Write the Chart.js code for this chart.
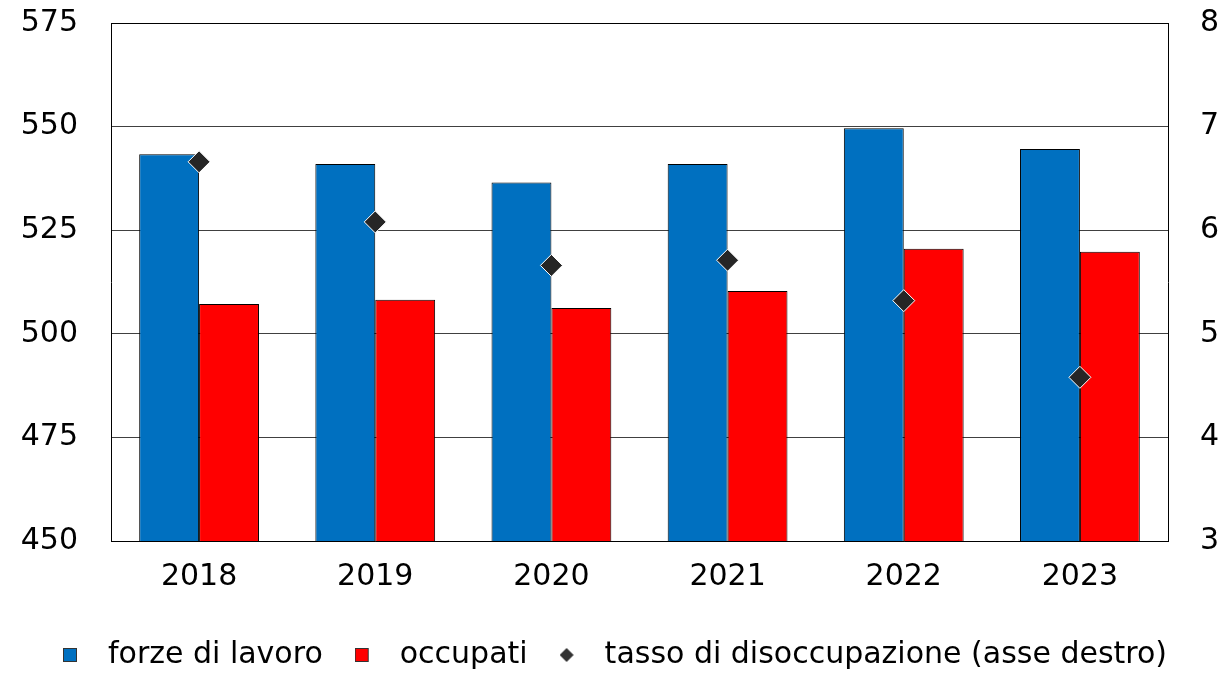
<!DOCTYPE html>
<html>
<head>
<meta charset="utf-8">
<title>Forze di lavoro e occupati</title>
<script src="https://cdn.jsdelivr.net/npm/chart.js@4.4.0/dist/chart.umd.min.js"></script>
<style>
    body { margin: 0; background: #fff; }
    #wrap { width: 1230px; height: 676px; }
</style>
</head>
<body>
<div id="wrap"><canvas id="myChart" width="1230" height="676"></canvas></div>
<script>
// data
const years = ['2018', '2019', '2020', '2021', '2022', '2023'];
const forzeLavoro = [543.3, 541.0, 536.5, 541.0, 549.6, 544.6];
const occupati = [507.2, 508.2, 506.2, 510.3, 520.5, 519.8];
const tassoDisoccupazione = [6.66, 6.08, 5.66, 5.71, 5.32, 4.58];
const leftTicks = [450, 475, 500, 525, 550, 575];
const rightTicks = [3, 4, 5, 6, 7, 8];

const FONT = { family: "'DejaVu Sans', 'Liberation Sans', Arial, sans-serif", size: 30 };

// little canvases used as legend markers, marker drawn at the left so the text sits further away
function legendIcon(kind, color) {
    const c = document.createElement('canvas');
    c.width = 30;
    c.height = 16;
    const g = c.getContext('2d');
    g.fillStyle = color;
    if (kind === 'square') {
        g.fillRect(0, 1, 14, 14);
        g.strokeStyle = '#333';
        g.lineWidth = 1;
        g.strokeRect(0.5, 1.5, 13, 13);
    } else {
        g.beginPath();
        g.moveTo(7, 1);
        g.lineTo(14, 8);
        g.lineTo(7, 15);
        g.lineTo(0, 8);
        g.closePath();
        g.fill();
    }
    return c;
}

const icons = [
    legendIcon('square', '#0070C0'),
    legendIcon('square', '#FF0000'),
    legendIcon('diamond', '#333333')
];

function gridColor(ctx) {
    // top line of the frame is black, the others grey
    if (ctx.tick && ctx.tick.value === 575) return '#000';
    return '#404040';
}

// fixed axis sizes so the plot area lands where the reference has it
function fixWidth(w) {
    return (scale) => {
        scale.width = w;
        scale.paddingTop = 0;
        scale.paddingBottom = 0;
    };
}

function drawChart() {
    const ctx = document.getElementById('myChart');
    Chart.defaults.color = '#000';
    Chart.defaults.font = FONT;

    new Chart(ctx, {
        type: 'bar',
        data: {
            labels: years,
            datasets: [{
                label: 'forze di lavoro',
                data: forzeLavoro,
                backgroundColor: '#0070C0',
                borderColor: '#000',
                borderWidth: 1,
                categoryPercentage: 0.68,
                barPercentage: 1.0,
                yAxisID: 'y'
            }, {
                label: 'occupati',
                data: occupati,
                backgroundColor: '#FF0000',
                borderColor: '#000',
                borderWidth: 1,
                categoryPercentage: 0.68,
                barPercentage: 1.0,
                yAxisID: 'y'
            }, {
                type: 'line',
                label: 'tasso di disoccupazione (asse destro)',
                data: tassoDisoccupazione,
                showLine: false,
                pointStyle: 'rectRot',
                pointRadius: 11,
                pointHoverRadius: 11,
                pointBackgroundColor: '#262626',
                pointBorderColor: '#ffffff',
                pointBorderWidth: 1,
                yAxisID: 'y1',
                order: -1
            }]
        },
        options: {
            responsive: false,
            animation: false,
            layout: {
                padding: { left: 0, right: 0, top: 23, bottom: -4 }
            },
            scales: {
                x: {
                    offset: true,
                    grid: { display: false },
                    border: { display: true, color: '#000', width: 1 },
                    ticks: { padding: 10, font: FONT },
                    afterFit: (scale) => { scale.height = 67; }
                },
                y: {
                    position: 'left',
                    min: leftTicks[0],
                    max: leftTicks[leftTicks.length - 1],
                    afterBuildTicks: (scale) => { scale.ticks = leftTicks.map(v => ({ value: v })); },
                    afterFit: fixWidth(111),
                    grid: { color: gridColor, lineWidth: 1, drawTicks: false },
                    border: { display: true, color: '#000', width: 1 },
                    ticks: { padding: 33, font: FONT }
                },
                y1: {
                    position: 'right',
                    min: rightTicks[0],
                    max: rightTicks[rightTicks.length - 1],
                    afterBuildTicks: (scale) => { scale.ticks = rightTicks.map(v => ({ value: v })); },
                    afterFit: fixWidth(62),
                    grid: { drawOnChartArea: false, drawTicks: false },
                    border: { display: true, color: '#000', width: 1 },
                    ticks: { padding: 32, font: FONT }
                }
            },
            plugins: {
                tooltip: { enabled: false },
                legend: {
                    position: 'bottom',
                    labels: {
                        usePointStyle: true,
                        pointStyleWidth: 30,
                        padding: 32,
                        font: FONT,
                        color: '#000',
                        generateLabels: (chart) => chart.data.datasets.map((ds, i) => ({
                            text: ds.label,
                            pointStyle: icons[i],
                            fillStyle: '#000',
                            strokeStyle: '#000',
                            lineWidth: 0,
                            fontColor: '#000',
                            hidden: !chart.isDatasetVisible(i),
                            datasetIndex: i
                        }))
                    }
                }
            }
        }
    });
}

drawChart();
</script>
</body>
</html>
